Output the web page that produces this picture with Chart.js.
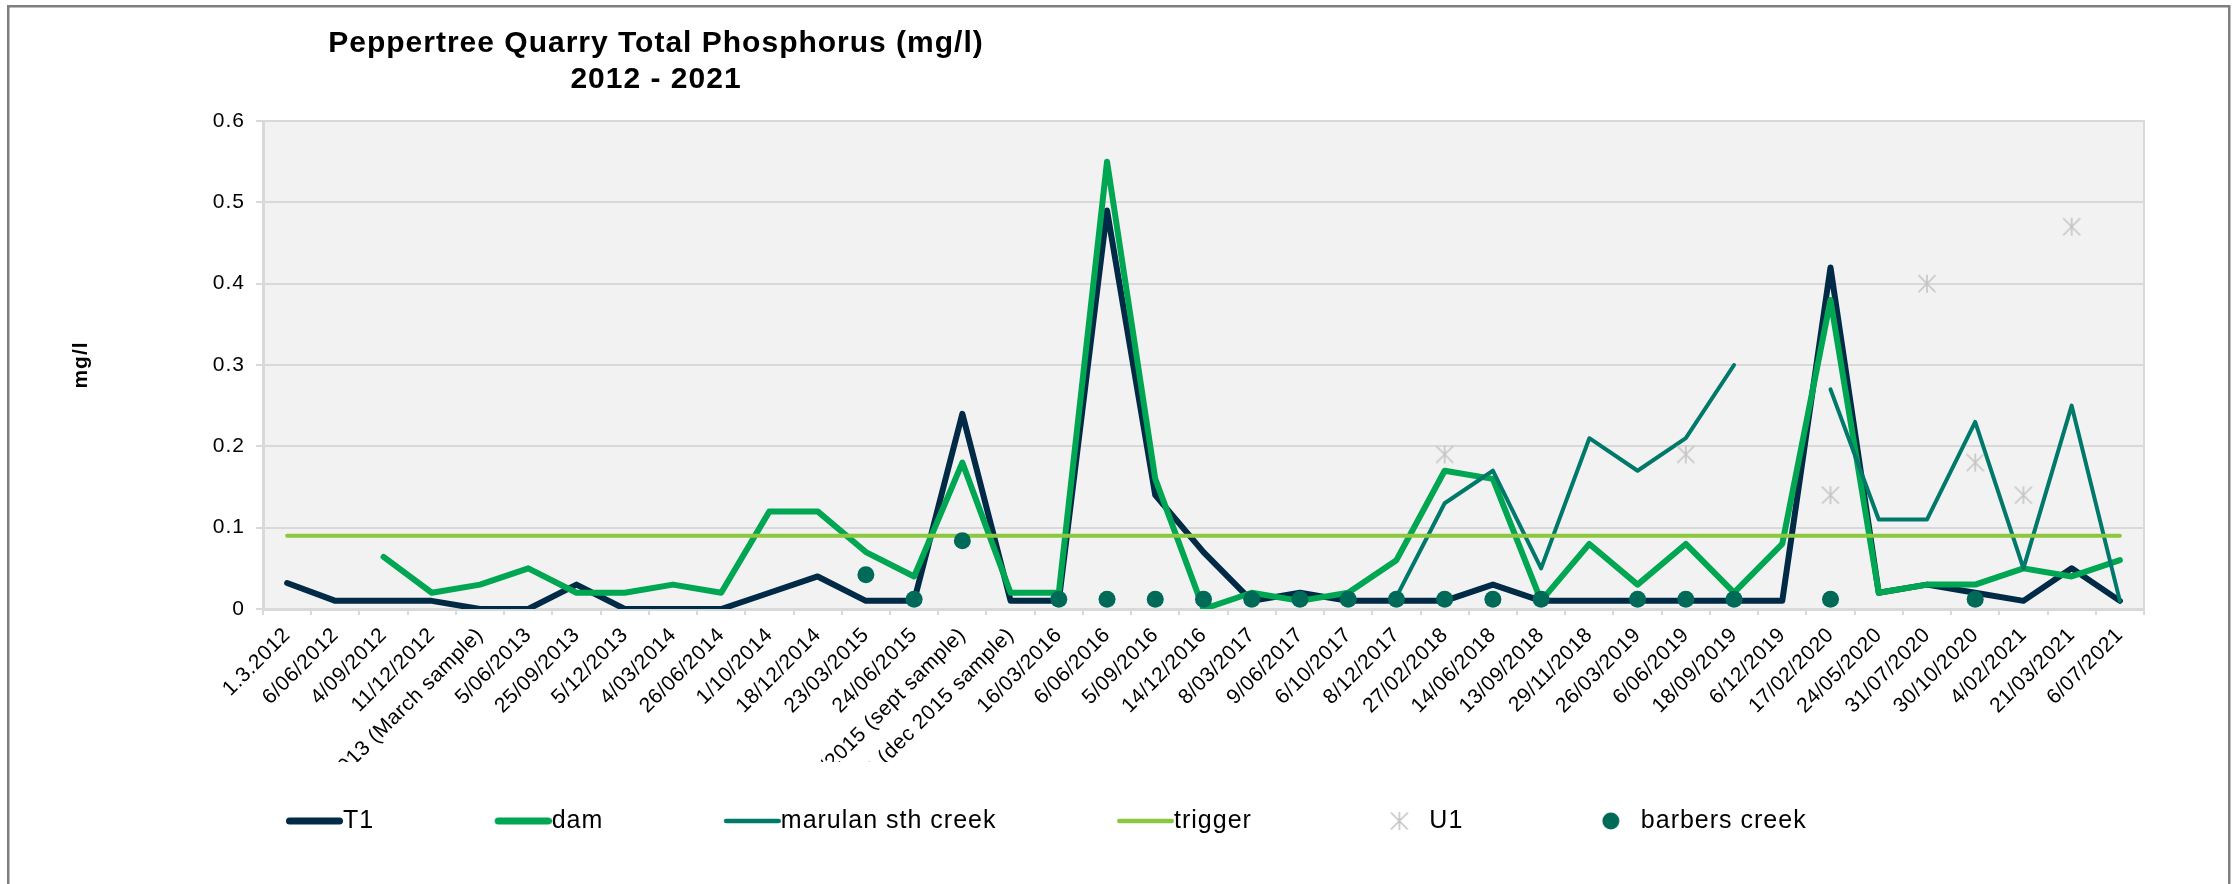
<!DOCTYPE html>
<html>
<head>
<meta charset="utf-8">
<script src="https://cdn.jsdelivr.net/npm/chart.js@4.4.1/dist/chart.umd.min.js"></script>
<style>
html,body{margin:0;padding:0;background:#ffffff;}
canvas{display:block;}
</style>
</head>
<body>
<canvas id="c" width="2239" height="884"></canvas>
<script>
// ---------------- data ----------------
const categories = ['1.3.2012','6/06/2012','4/09/2012','11/12/2012','013 (March sample)','5/06/2013','25/09/2013','5/12/2013','4/03/2014','26/06/2014','1/10/2014','18/12/2014','23/03/2015','24/06/2015','/2015 (sept sample)','6 (dec 2015 sample)','16/03/2016','6/06/2016','5/09/2016','14/12/2016','8/03/2017','9/06/2017','6/10/2017','8/12/2017','27/02/2018','14/06/2018','13/09/2018','29/11/2018','26/03/2019','6/06/2019','18/09/2019','6/12/2019','17/02/2020','24/05/2020','31/07/2020','30/10/2020','4/02/2021','21/03/2021','6/07/2021'];

const t1 = [0.032,0.01,0.01,0.01,0,0,0.03,0,0,0,0.02,0.04,0.01,0.01,0.24,0.01,0.01,0.49,0.14,0.07,0.01,0.02,0.01,0.01,0.01,0.03,0.01,0.01,0.01,0.01,0.01,0.01,0.42,0.02,0.03,0.02,0.01,0.05,0.01];

const dam = [null,null,0.064,0.02,0.03,0.05,0.02,0.02,0.03,0.02,0.12,0.12,0.07,0.04,0.18,0.02,0.02,0.55,0.16,0,0.02,0.01,0.02,0.06,0.17,0.16,0.01,0.08,0.03,0.08,0.02,0.08,0.38,0.02,0.03,0.03,0.05,0.04,0.06];

const marulan = [null,null,null,null,null,null,null,null,null,null,null,null,null,null,null,null,null,null,null,null,null,null,null,0.015,0.13,0.17,0.05,0.21,0.17,0.21,0.30,null,0.27,0.11,0.11,0.23,0.05,0.25,0.01];

const trigger = [0.09,0.09,0.09,0.09,0.09,0.09,0.09,0.09,0.09,0.09,0.09,0.09,0.09,0.09,0.09,0.09,0.09,0.09,0.09,0.09,0.09,0.09,0.09,0.09,0.09,0.09,0.09,0.09,0.09,0.09,0.09,0.09,0.09,0.09,0.09,0.09,0.09,0.09,0.09];

const u1 = [null,null,null,null,null,null,null,null,null,null,null,null,null,null,null,null,null,null,null,null,null,null,null,null,0.19,null,null,null,null,0.19,null,null,0.14,null,0.40,0.18,0.14,0.47,null];

const barbers = [null,null,null,null,null,null,null,null,null,null,null,null,0.042,0.012,0.084,null,0.012,0.012,0.012,0.012,0.012,0.012,0.012,0.012,0.012,0.012,0.012,null,0.012,0.012,0.012,null,0.012,null,null,0.012,null,null,null];

const yTickLabels = ['0','0.1','0.2','0.3','0.4','0.5','0.6'];
const seriesNames = ['T1','dam','marulan sth creek','trigger','U1','barbers creek'];
const titleLines = ['Peppertree Quarry Total Phosphorus (mg/l)','2012 - 2021'];
const yTitle = 'mg/l';

// ---------------- styles ----------------
const FONT = "'Liberation Sans', Arial, Helvetica, sans-serif";
const COL = {
  t1: '#002a45', dam: '#00a651', marulan: '#00796a', trigger: '#8dc63f',
  u1: '#c4c4c4', barbers: '#006a58', grid: '#d9d9d9', plot: '#f2f2f2'
};

function makeCanvas(w, h, fn) {
  const cv = document.createElement('canvas');
  cv.width = w; cv.height = h;
  fn(cv.getContext('2d'));
  return cv;
}
function drawStar(g, cx, cy, s, color, lw) {
  g.strokeStyle = color; g.lineWidth = lw; g.lineCap = 'butt';
  const h = s / 2;
  g.beginPath();
  g.moveTo(cx - h, cy - h); g.lineTo(cx + h, cy + h);
  g.moveTo(cx + h, cy - h); g.lineTo(cx - h, cy + h);
  g.moveTo(cx, cy - h - 0.5); g.lineTo(cx, cy + h + 0.5);
  g.stroke();
}
const starPoint = makeCanvas(22, 22, g => drawStar(g, 11, 11, 17, COL.u1, 1.6));

// legend icons: 72 px wide so that the drawn content ends where the label text starts
function lineIcon(color, t) {
  return makeCanvas(72, 22, g => {
    g.strokeStyle = color; g.lineWidth = t; g.lineCap = 'round';
    g.beginPath(); g.moveTo(15 + t / 2, 11); g.lineTo(72 - t / 2, 11); g.stroke();
  });
}
const legendIcons = [
  lineIcon(COL.t1, 7),
  lineIcon(COL.dam, 7),
  lineIcon(COL.marulan, 4.5),
  lineIcon(COL.trigger, 4.5),
  makeCanvas(72, 22, g => drawStar(g, 42, 11, 17, COL.u1, 1.6)),
  makeCanvas(72, 22, g => { g.fillStyle = COL.barbers; g.beginPath(); g.arc(42, 11, 8.5, 0, Math.PI * 2); g.fill(); })
];

const framePlugin = {
  id: 'frame',
  beforeUpdate(chart) { chart.ctx.letterSpacing = '1px'; },
  afterLayout(chart) {
    chart.titleBlock.left = 0;
    chart.titleBlock.right = 1312;
    chart.legend.left = 165.5;
    chart.legend.top = 690.5;
  },
  beforeDraw(chart) {
    const {ctx, chartArea: a} = chart;
    ctx.letterSpacing = '1px';
    ctx.save();
    ctx.fillStyle = COL.plot;
    ctx.fillRect(a.left, a.top, a.right - a.left, a.bottom - a.top);
    ctx.restore();
  },
  beforeDatasetsDraw(chart) {
    const {ctx, chartArea: a} = chart;
    ctx.save();
    ctx.strokeStyle = COL.grid; ctx.lineWidth = 2;
    ctx.strokeRect(a.left, a.top, a.right - a.left, a.bottom - a.top);
    ctx.restore();
  },
  afterDatasetsDraw(chart) { chart.ctx.letterSpacing = '0.5px'; },
  afterDraw(chart) {
    const ctx = chart.ctx;
    ctx.save();
    ctx.strokeStyle = '#7f7f7f'; ctx.lineWidth = 2.5;
    ctx.strokeRect(8.25, 6.25, 2221, 1000);
    ctx.restore();
    ctx.letterSpacing = '1px';
  }
};

const lineBase = { type: 'line', pointRadius: 0, pointHoverRadius: 0, tension: 0, spanGaps: false, fill: false, borderJoinStyle: 'round', borderCapStyle: 'round' };

new Chart(document.getElementById('c'), {
  type: 'line',
  data: {
    labels: categories,
    datasets: [
      Object.assign({}, lineBase, { label: seriesNames[0], data: t1, borderColor: COL.t1, borderWidth: 6, order: 6 }),
      Object.assign({}, lineBase, { label: seriesNames[1], data: dam, borderColor: COL.dam, borderWidth: 6, order: 5 }),
      Object.assign({}, lineBase, { label: seriesNames[2], data: marulan, borderColor: COL.marulan, borderWidth: 4, order: 4 }),
      Object.assign({}, lineBase, { label: seriesNames[3], data: trigger, borderColor: COL.trigger, borderWidth: 4, order: 3 }),
      { type: 'line', label: seriesNames[4], data: u1, showLine: false, pointStyle: starPoint, pointRadius: 10, pointHoverRadius: 10, borderColor: COL.u1, backgroundColor: COL.u1, order: 2 },
      { type: 'line', label: seriesNames[5], data: barbers, showLine: false, pointStyle: 'circle', pointRadius: 8.5, pointHoverRadius: 8.5, pointBorderWidth: 0, pointBackgroundColor: COL.barbers, borderColor: COL.barbers, backgroundColor: COL.barbers, order: 1 }
    ]
  },
  options: {
    responsive: false,
    animation: false,
    devicePixelRatio: 1,
    events: [],
    layout: { padding: { left: 0, right: 95, top: 0, bottom: 0 } },
    plugins: {
      tooltip: { enabled: false },
      title: {
        display: true, text: titleLines, color: '#000000',
        font: { family: FONT, size: 30, weight: 'bold', lineHeight: '36px' },
        padding: { top: 26, bottom: 23 }
      },
      legend: {
        display: true, position: 'bottom', align: 'start', maxHeight: 122,
        labels: {
          usePointStyle: true, pointStyleWidth: 47, padding: 118,
          color: '#000000', font: { family: FONT, size: 25 },
          generateLabels: (chart) => chart.data.datasets.map((ds, i) => ({
            text: ds.label, datasetIndex: i, hidden: false, fontColor: '#000000',
            pointStyle: legendIcons[i], lineWidth: 0, strokeStyle: 'rgba(0,0,0,0)', fillStyle: 'rgba(0,0,0,0)'
          }))
        }
      }
    },
    scales: {
      x: {
        type: 'category', offset: true,
        afterFit: (s) => { s.height = 153; },
        grid: { display: true, drawOnChartArea: false, drawTicks: true, tickLength: 6, offset: true, color: COL.grid, lineWidth: 2 },
        border: { display: true, color: COL.grid, width: 3 },
        ticks: { autoSkip: false, minRotation: 45, maxRotation: 45, padding: 8, color: '#000000', font: { family: FONT, size: 21 }, z: 1 }
      },
      y: {
        type: 'linear', min: 0, max: 0.6,
        afterFit: (s) => { s.width = 263; },
        grid: { color: COL.grid, lineWidth: 2, drawTicks: true, tickLength: 7 },
        border: { display: true, color: COL.grid, width: 3 },
        ticks: { stepSize: 0.1, padding: 11, color: '#000000', font: { family: FONT, size: 21 }, callback: (v, i) => yTickLabels[i] },
        title: { display: true, text: yTitle, color: '#000000', font: { family: FONT, size: 21, weight: 'bold' }, padding: { top: 69, bottom: 0 } }
      }
    }
  },
  plugins: [framePlugin]
});
</script>
</body>
</html>
